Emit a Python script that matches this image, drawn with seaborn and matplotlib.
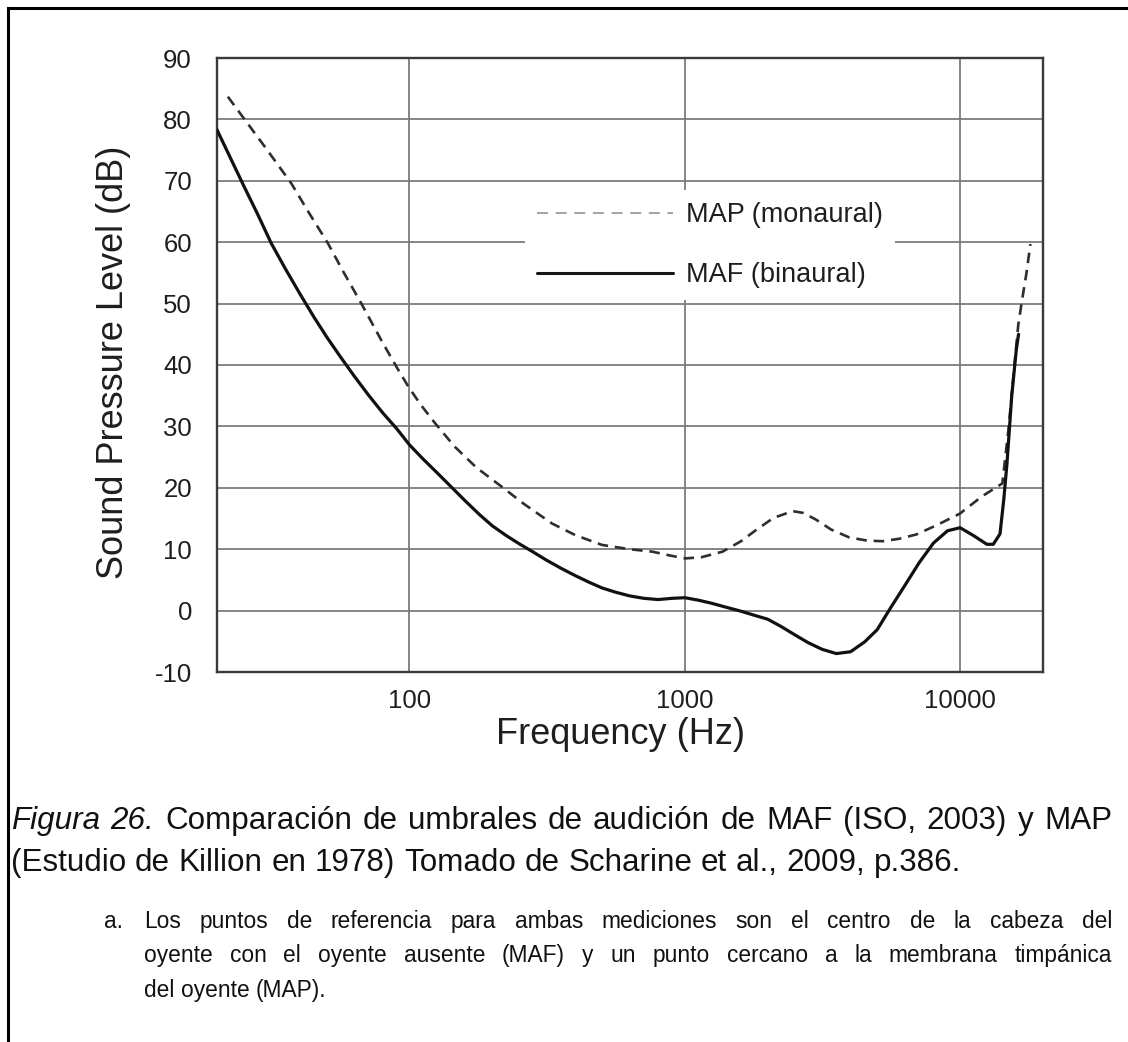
import numpy as np
import pandas as pd
import matplotlib
matplotlib.use("Agg")
import matplotlib.pyplot as plt
import seaborn as sns
from matplotlib.lines import Line2D
from matplotlib.ticker import NullLocator, FixedLocator, FixedFormatter

# ---------------- data ----------------
maf_freq = [20, 22.5, 25, 28, 31.5, 35.5, 40, 45, 50, 56, 63, 71, 80, 90, 100, 112, 125,
            140, 160, 180, 200, 225, 250, 280, 315, 355, 400, 450, 500, 560, 630, 710,
            800, 900, 1000, 1120, 1250, 1400, 1600, 1800, 2000, 2240, 2500, 2800, 3150,
            3550, 4000, 4500, 5000, 5600, 6300, 7100, 8000, 9000, 10000, 11200, 12500,
            13200, 13960, 14400, 14800, 15400, 16000, 16300]
maf_db = [78.3, 73.5, 69.2, 64.7, 59.8, 55.6, 51.6, 47.8, 44.6, 41.4, 38.2, 35.1, 32.2,
          29.6, 27.0, 24.7, 22.6, 20.4, 17.8, 15.6, 13.8, 12.2, 10.9, 9.6, 8.2, 6.9, 5.7,
          4.6, 3.7, 3.0, 2.4, 2.0, 1.8, 2.0, 2.1, 1.7, 1.2, 0.6, -0.1, -0.8, -1.4, -2.6,
          -3.9, -5.2, -6.3, -7.0, -6.7, -5.1, -3.1, 0.5, 4.1, 7.8, 11.0, 13.0, 13.5, 12.2,
          10.8, 10.8, 12.5, 18.0, 24.0, 35.0, 42.5, 45.0]

map_freq = [21.9, 25, 30, 37.2, 43, 50.6, 58, 66.9, 80, 90, 99, 110, 124, 146, 175, 216,
            260, 329, 400, 500, 630, 762, 900, 1007, 1150, 1371, 1600, 1812, 2100, 2466,
            2700, 3000, 3400, 3966, 4600, 5245, 6000, 6936, 8300, 9985, 12000, 14230,
            14970, 15810, 16260, 16710, 17420, 18000]
map_db = [83.7, 80.2, 75.4, 69.6, 64.9, 59.8, 54.9, 50.0, 43.6, 39.6, 36.5, 33.5, 30.5,
          26.7, 23.3, 20.2, 17.4, 14.2, 12.3, 10.7, 10.0, 9.6, 8.9, 8.5, 8.7, 9.6, 11.3,
          13.1, 15.1, 16.2, 15.9, 14.8, 13.2, 11.9, 11.4, 11.3, 11.7, 12.4, 14.0, 15.8,
          18.6, 20.7, 29.3, 40.7, 46.5, 50.0, 55.0, 59.7]

x_ticks = [100, 1000, 10000]
x_tick_labels = ["100", "1000", "10000"]
y_ticks = [-10, 0, 10, 20, 30, 40, 50, 60, 70, 80, 90]
series_labels = ["MAP (monaural)", "MAF (binaural)"]
x_label = "Frequency (Hz)"
y_label = "Sound Pressure Level (dB)"

caption_italic = "Figura 26."
caption_line1 = "Comparación de umbrales de audición de MAF (ISO, 2003) y MAP"
caption_line2 = "(Estudio de Killion en 1978) Tomado de Scharine et al., 2009, p.386."
note_marker = "a."
note_lines = [
    "Los puntos de referencia para ambas mediciones son el centro de la cabeza del",
    "oyente con el oyente ausente (MAF) y un punto cercano a la membrana timpánica",
    "del oyente (MAP).",
]

# ---------------- figure ----------------
W, H = 1128, 1042
sns.set_theme(style="white")
plt.rcParams['font.family'] = ['Liberation Sans', 'DejaVu Sans']

fig = plt.figure(figsize=(W / 100, H / 100), dpi=100)
fig.patch.set_facecolor("white")

ax_l, ax_r, ax_t, ax_b = 217, 1043, 58, 672
ax = fig.add_axes([ax_l / W, 1 - ax_b / H, (ax_r - ax_l) / W, (ax_b - ax_t) / H])
ax.set_xscale("log")

maf_df = pd.DataFrame({"freq": maf_freq, "db": maf_db})
map_df = pd.DataFrame({"freq": map_freq, "db": map_db})

sns.lineplot(data=map_df, x="freq", y="db", ax=ax, color="#2e2e2e", lw=1.9,
             linestyle=(0, (4.0, 2.6)), zorder=3)
sns.lineplot(data=maf_df, x="freq", y="db", ax=ax, color="#111111", lw=2.3,
             zorder=4, solid_joinstyle="round")

ax.set_xlim(20, 20000)
ax.set_ylim(-10, 90)
ax.xaxis.set_major_locator(FixedLocator(x_ticks))
ax.xaxis.set_major_formatter(FixedFormatter(x_tick_labels))
ax.xaxis.set_minor_locator(NullLocator())
ax.set_yticks(y_ticks)
ax.set_yticklabels([str(v) for v in y_ticks])

ax.grid(True, which="major", color="#7c7c7c", lw=1.3)
ax.set_axisbelow(True)
for s in ax.spines.values():
    s.set_color("#3a3a3a")
    s.set_linewidth(1.7)

ax.tick_params(axis="both", which="major", labelsize=18.5, labelcolor="#1e1e1e",
               length=3, width=1, color="#555555", direction="out")
ax.tick_params(axis="x", pad=9.5)
ax.tick_params(axis="y", pad=15)

ax.set_xlabel(x_label, fontsize=26, color="#1e1e1e")
ax.set_ylabel(y_label, fontsize=26, color="#1e1e1e")
ax.xaxis.set_label_coords((620 - ax_l) / (ax_r - ax_l), (ax_b - 717) / (ax_b - ax_t))
ax.yaxis.set_label_coords((131 - ax_l) / (ax_r - ax_l), (ax_b - 362) / (ax_b - ax_t))

h_map = Line2D([], [], color="#8a8a8a", lw=1.1, linestyle=(0, (7.2, 5.0)))
h_maf = Line2D([], [], color="#151515", lw=2.2)
leg = ax.legend([h_map, h_maf], series_labels, loc="upper left",
                bbox_to_anchor=((525 - ax_l) / (ax_r - ax_l), (ax_b - 190) / (ax_b - ax_t)),
                frameon=True, facecolor="white", edgecolor="none", framealpha=1,
                fancybox=False, fontsize=19.5, handlelength=5.0, handletextpad=0.48,
                labelspacing=1.25, borderpad=0.45, borderaxespad=0)
for t in leg.get_texts():
    t.set_color("#1e1e1e")
leg.set_zorder(5)

# ---------------- page border ----------------
fig.add_artist(Line2D([7.5 / W, 7.5 / W], [0, 1 - 8 / H], transform=fig.transFigure,
                      color="black", lw=2.2, solid_capstyle="projecting"))
fig.add_artist(Line2D([7.5 / W, 1], [1 - 8 / H, 1 - 8 / H], transform=fig.transFigure,
                      color="black", lw=2.2, solid_capstyle="projecting"))

# ---------------- caption text ----------------
renderer = fig.canvas.get_renderer()


def place_words(words, styles, baseline_px, x0, x1, size, justify):
    texts = [fig.text(0, 1 - baseline_px / H, w, fontsize=size, style=st,
                      va="baseline", ha="left", color="#111111")
             for w, st in zip(words, styles)]
    widths = [t.get_window_extent(renderer).width for t in texts]
    gap = 0.278 * size * 100 / 72
    if justify and len(words) > 1:
        gap = (x1 - x0 - sum(widths)) / (len(words) - 1)
    x = x0
    for t, w in zip(texts, widths):
        t.set_x(x / W)
        x += w + gap


cap_size = 22.6
words1 = caption_italic.split() + caption_line1.split()
styles1 = ["italic"] * len(caption_italic.split()) + ["normal"] * len(caption_line1.split())
place_words(words1, styles1, 829, 11, 1112, cap_size, True)
words2 = caption_line2.split()
place_words(words2, ["normal"] * len(words2), 871, 11, 1112, cap_size, False)

note_size = 16.4
fig.text(104 / W, 1 - 928 / H, note_marker, fontsize=note_size, va="baseline",
         ha="left", color="#111111")
for i, (line, base) in enumerate(zip(note_lines, [928, 962, 997])):
    ws = line.split()
    place_words(ws, ["normal"] * len(ws), base, 144, 1112, note_size,
                i < len(note_lines) - 1)

fig.savefig("out.png", dpi=100, facecolor="white")
